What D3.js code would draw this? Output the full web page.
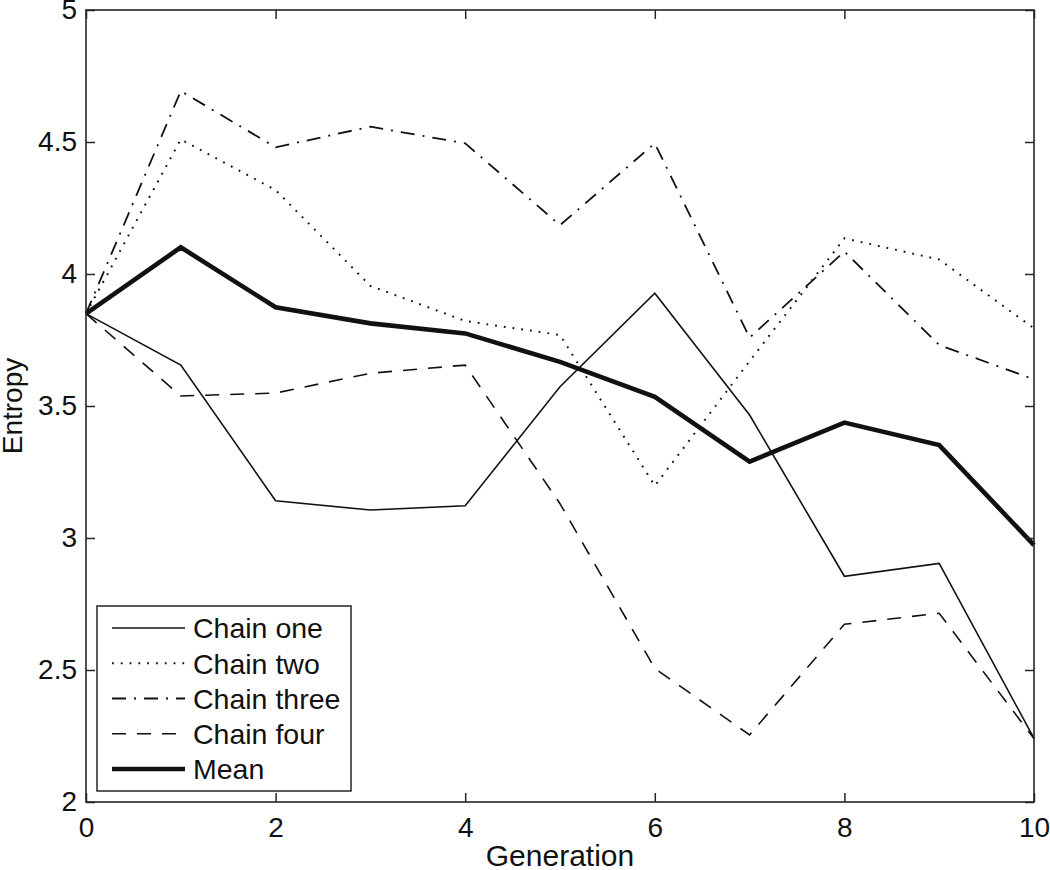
<!DOCTYPE html>
<html>
<head>
<meta charset="utf-8">
<script src="https://cdn.jsdelivr.net/npm/d3@7"></script>
<style>
  html, body { margin: 0; padding: 0; background: #fff; }
  svg { display: block; font-family: "Liberation Sans", Arial, Helvetica, sans-serif; }
</style>
</head>
<body>
<svg id="chart" width="1050" height="870"></svg>
<script>
const generations = [0, 1, 2, 3, 4, 5, 6, 7, 8, 9, 10];
const chainOne   = [3.85, 3.655, 3.141, 3.106, 3.122, 3.573, 3.927, 3.466, 2.855, 2.904, 2.241];
const chainTwo   = [3.85, 4.51, 4.318, 3.955, 3.822, 3.769, 3.198, 3.67, 4.135, 4.055, 3.794];
const chainThree = [3.85, 4.693, 4.48, 4.558, 4.495, 4.185, 4.495, 3.759, 4.085, 3.731, 3.601];
const chainFour  = [3.85, 3.538, 3.549, 3.624, 3.655, 3.13, 2.506, 2.254, 2.673, 2.715, 2.24];
const meanSeries = [3.85, 4.101, 3.874, 3.813, 3.775, 3.667, 3.535, 3.289, 3.437, 3.352, 2.973];
const seriesNames = ["Chain one", "Chain two", "Chain three", "Chain four", "Mean"];
const xTicks = [0, 2, 4, 6, 8, 10];
const yTicks = [2, 2.5, 3, 3.5, 4, 4.5, 5];
const xLabel = "Generation";
const yLabel = "Entropy";

const styles = [
  { width: 1.6, dash: null },
  { width: 2, dash: "1.8,7" },
  { width: 1.8, dash: "14,8,2,8" },
  { width: 1.6, dash: "14,11" },
  { width: 4.6, dash: null }
];
const allSeries = [chainOne, chainTwo, chainThree, chainFour, meanSeries];

const svg = d3.select("#chart");
const L = 86, R = 1034, T = 10, B = 802;
const x = d3.scaleLinear().domain([0, 10]).range([L, R]);
const y = d3.scaleLinear().domain([2, 5]).range([B, T]);
const axisColor = "#262626";
const tickLen = 9;

// Lines
const line = d3.line().x((d, i) => x(generations[i])).y(d => y(d));
allSeries.forEach((s, k) => {
  svg.append("path")
    .datum(s)
    .attr("d", line)
    .attr("fill", "none")
    .attr("stroke", "#111")
    .attr("stroke-width", styles[k].width)
    .attr("stroke-linejoin", "miter")
    .attr("stroke-dasharray", styles[k].dash);
});

// Axes (inward ticks, mirrored)
const fontSize = 28;
const gB = svg.append("g").attr("transform", `translate(0,${B})`)
  .call(d3.axisBottom(x).tickValues(xTicks).tickSizeInner(-tickLen).tickSizeOuter(0).tickPadding(15).tickFormat(d3.format("d")));
const gT = svg.append("g").attr("transform", `translate(0,${T})`)
  .call(d3.axisTop(x).tickValues(xTicks).tickSizeInner(-tickLen).tickSizeOuter(0).tickFormat(""));
const gL = svg.append("g").attr("transform", `translate(${L},0)`)
  .call(d3.axisLeft(y).tickValues(yTicks).tickSizeInner(-tickLen).tickSizeOuter(0).tickPadding(9).tickFormat(d => d3.format("")(d)));
const gR = svg.append("g").attr("transform", `translate(${R},0)`)
  .call(d3.axisRight(y).tickValues(yTicks).tickSizeInner(-tickLen).tickSizeOuter(0).tickFormat(""));
[gB, gT, gL, gR].forEach(g => {
  g.select(".domain").remove();
  g.selectAll("line").attr("stroke", axisColor).attr("stroke-width", 1.5);
  g.selectAll("text").attr("fill", "#111").style("font-size", fontSize + "px")
    .style("font-family", "'Liberation Sans', Arial, sans-serif");
});
gB.selectAll("text").attr("dy", "0.71em");

svg.append("rect")
  .attr("x", L).attr("y", T).attr("width", R - L).attr("height", B - T)
  .attr("fill", "none").attr("stroke", axisColor).attr("stroke-width", 1.6);

// Axis labels
svg.append("text")
  .attr("x", (L + R) / 2).attr("y", 866)
  .attr("text-anchor", "middle")
  .style("font-size", "30px")
  .attr("fill", "#111")
  .text(xLabel);
svg.append("text")
  .attr("transform", `translate(22,${(T + B) / 2}) rotate(-90)`)
  .attr("text-anchor", "middle")
  .style("font-size", "28px")
  .attr("fill", "#111")
  .text(yLabel);

// Legend
const lgX = 97, lgY = 606, lgW = 254, lgH = 185;
const lg = svg.append("g");
lg.append("rect")
  .attr("x", lgX).attr("y", lgY).attr("width", lgW).attr("height", lgH)
  .attr("fill", "#fff").attr("stroke", axisColor).attr("stroke-width", 1.5);
const rowY = d3.scalePoint().domain(seriesNames).range([628, 769]);
seriesNames.forEach((name, k) => {
  const yy = rowY(name);
  lg.append("line")
    .attr("x1", 112).attr("x2", 185).attr("y1", yy).attr("y2", yy)
    .attr("stroke", "#111")
    .attr("stroke-width", styles[k].width)
    .attr("stroke-dasharray", styles[k].dash);
  lg.append("text")
    .attr("x", 193).attr("y", yy)
    .attr("dy", "0.36em")
    .style("font-size", "28.5px")
    .attr("fill", "#111")
    .text(name);
});
</script>
</body>
</html>
